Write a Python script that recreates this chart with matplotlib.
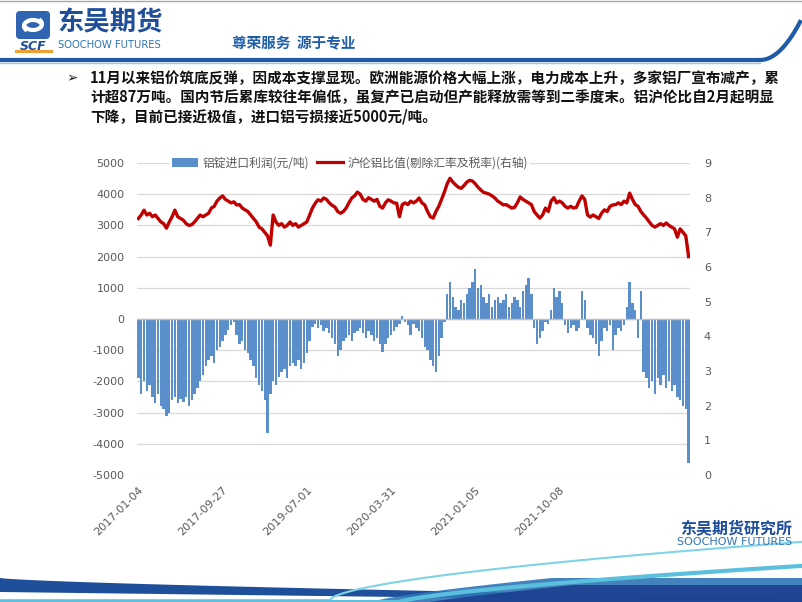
import matplotlib
matplotlib.use('Agg')
import matplotlib.pyplot as plt
from matplotlib.patches import Rectangle, FancyBboxPatch
from matplotlib.lines import Line2D
import numpy as np

plt.rcParams['font.family'] = ['Noto Sans CJK SC', 'DejaVu Sans']
plt.rcParams['axes.unicode_minus'] = False

# data (~5 trading days per point) ############################################
tick_pos = [0, 30, 60, 90, 120, 150]
tick_labels = ['2017-01-04', '2017-09-27', '2019-07-01', '2020-03-31', '2021-01-05', '2021-10-08']

# aluminium ingot import profit, yuan/t (left axis)
profit = [
    -1900, -2400, -2000, -2300, -2100, -2500, -2700, -2400, -2800, -2900,
    -3100, -3000, -2600, -2500, -2700, -2550, -2650, -2500, -2800, -2600,
    -2400, -2200, -2000, -1800, -1500, -1300, -1200, -1400, -1000, -900,
    -700, -500, -350, -200, -100, -500, -800, -700, -1000, -1100,
    -1300, -1500, -1900, -2100, -2300, -2600, -3650, -2400, -2000, -2100,
    -1850, -1700, -1600, -1900, -1500, -1400, -1500, -1300, -1600, -1400,
    -1100, -700, -250, -150, -300, -200, -400, -300, -450, -600,
    -800, -1200, -1000, -700, -600, -500, -700, -450, -400, -300,
    -450, -600, -400, -500, -700, -600, -800, -1050, -800, -600,
    -500, -400, -250, -150, 100, -100, -200, -500, -150, -300,
    -400, -600, -900, -1000, -1300, -1500, -1700, -1200, -600, -100,
    800, 1200, 700, 400, 300, 600, 500, 800, 1000, 1200,
    1600, 1000, 1100, 700, 500, 800, 400, 600, 700, 500,
    600, 800, 400, 500, 700, 600, 400, 900, 1100, 1300,
    800, -300, -800, -600, -400, -100, -150, 300, 1000, 700,
    900, 500, -200, -450, -300, -200, -400, -300, 900, 600,
    -300, -500, -600, -800, -1200, -700, -300, -400, -200, -1000,
    -500, -300, -400, -200, 400, 1200, 500, 300, -600, 900,
    -1700, -1900, -2200, -2000, -2400, -1900, -2100, -1800, -2200, -2000,
    -2300, -2100, -2500, -2600, -2800, -2900, -4600,
]

# SHFE/LME aluminium ratio, ex exchange rate and tax (right axis)
ratio = [
    7.40, 7.50, 7.64, 7.50, 7.55, 7.45, 7.50, 7.40, 7.30, 7.25,
    7.12, 7.30, 7.45, 7.64, 7.45, 7.40, 7.35, 7.25, 7.20, 7.22,
    7.30, 7.40, 7.50, 7.45, 7.50, 7.55, 7.70, 7.75, 7.90, 7.99,
    8.05, 7.95, 7.90, 7.85, 7.88, 7.79, 7.80, 7.70, 7.65, 7.60,
    7.50, 7.40, 7.30, 7.15, 7.10, 7.00, 6.90, 6.63, 7.50, 7.30,
    7.20, 7.25, 7.15, 7.20, 7.30, 7.20, 7.25, 7.15, 7.20, 7.25,
    7.30, 7.50, 7.70, 7.84, 7.94, 7.90, 7.99, 7.95, 7.85, 7.78,
    7.73, 7.60, 7.55, 7.60, 7.70, 7.85, 7.99, 8.05, 8.16, 8.10,
    7.95, 7.90, 8.00, 7.95, 7.90, 7.95, 7.75, 7.70, 7.85, 7.94,
    7.90, 7.85, 7.84, 7.45, 7.80, 7.85, 7.80, 7.90, 7.85, 7.90,
    7.99, 7.85, 7.79, 7.60, 7.45, 7.41, 7.60, 7.75, 7.95, 8.16,
    8.40, 8.56, 8.45, 8.37, 8.30, 8.27, 8.35, 8.45, 8.50, 8.48,
    8.40, 8.30, 8.22, 8.15, 8.13, 8.10, 8.05, 7.99, 7.90, 7.85,
    7.79, 7.80, 7.75, 7.70, 7.72, 7.85, 8.02, 7.95, 7.90, 7.85,
    7.80, 7.60, 7.50, 7.41, 7.50, 7.70, 7.60, 7.90, 8.00, 7.85,
    7.90, 7.85, 7.75, 7.70, 7.75, 7.70, 7.72, 7.90, 8.05, 7.95,
    7.50, 7.44, 7.50, 7.45, 7.40, 7.55, 7.65, 7.60, 7.75, 7.79,
    7.80, 7.85, 7.80, 7.90, 7.85, 8.13, 7.95, 7.80, 7.75, 7.60,
    7.50, 7.41, 7.30, 7.20, 7.15, 7.20, 7.25, 7.20, 7.27, 7.20,
    7.15, 7.10, 6.86, 7.10, 7.00, 6.90, 6.30,
]

bullet_lines = [
    '11月以来铝价筑底反弹，因成本支撑显现。欧洲能源价格大幅上涨，电力成本上升，多家铝厂宣布减产，累',
    '计超87万吨。国内节后累库较往年偏低，虽复产已启动但产能释放需等到二季度末。铝沪伦比自2月起明显',
    '下降，目前已接近极值，进口铝亏损接近5000元/吨。',
]

W, H = 802, 602
fig = plt.figure(figsize=(W / 100, H / 100), dpi=100)

# slide decoration in pixel coords ############################################
bg = fig.add_axes([0, 0, 1, 1], zorder=0)
bg.set_xlim(0, W)
bg.set_ylim(H, 0)
bg.axis('off')

bg.plot([0, W], [1, 1], color='#A6A6A6', lw=1)
# logo
bg.add_patch(FancyBboxPatch((16, 11), 34, 28, boxstyle='round,pad=0,rounding_size=4',
                            fc='#2F64B0', ec='none'))
t = np.linspace(0, np.pi, 30)
bg.plot(33 + 9 * np.cos(t + 0.6), 20 + 6 * np.sin(t + 0.6) * -1 + 6, color='white', lw=3)
bg.plot(33 - 9 * np.cos(t + 0.6), 30 + 6 * np.sin(t + 0.6) - 6, color='white', lw=3)
bg.text(33, 46, 'SCF', ha='center', va='center', fontsize=9, fontweight='bold',
        fontstyle='italic', color='#1F4E9A', family='DejaVu Sans')
bg.add_patch(Rectangle((15, 50), 38, 2.5, fc='#F0A030', ec='none'))
bg.text(57, 23, '东吴期货', ha='left', va='center', fontsize=19, fontweight='bold', color='#1F4E9A')
bg.text(58, 45, 'SOOCHOW FUTURES', ha='left', va='center', fontsize=7.2, color='#2E75B6',
        family='DejaVu Sans')
bg.text(232, 43, '尊荣服务  源于专业', ha='left', va='center', fontsize=10.5,
        fontweight='bold', fontstyle='italic', color='#1F5FAA')
# header line with curl at the right
xs = np.linspace(760, 800, 30)
bg.plot([0, 760], [60, 60], color='#1F5BA8', lw=3, solid_capstyle='butt')
bg.plot(xs, 60 - 38 * ((xs - 760) / 40) ** 2, color='#1F5BA8', lw=3)
bg.plot([0, 760], [63, 63], color='#9DC3E6', lw=1)

# bullet text
bg.text(66, 78, '➢', ha='left', va='center', fontsize=10, family='DejaVu Sans', color='#222222')
for k, line in enumerate(bullet_lines):
    bg.text(90, 78 + 19 * k, line, ha='left', va='center', fontsize=10.5,
            fontweight='bold', color='#111111')

# bottom waves
x = np.linspace(0, W, 300)
bg.fill_between(x, 578 + 20 * (x / W) ** 0.7, 592 + 10 * (x / W), color='#1F4E9A', lw=0)
bg.fill_between(x, np.maximum(600 - 45 * ((x - 380) / 420).clip(0) ** 0.8, 578), 602,
                color='#2E75B6', lw=0, alpha=0.9)
bg.fill_between(x, np.maximum(602 - 40 * ((x - 430) / 370).clip(0) ** 0.9, 585), 602,
                color='#1B3F8F', lw=0, alpha=0.9)
bg.plot(x, 600 - 58 * ((x - 330) / 470).clip(0) ** 0.6, color='#7FD3E6', lw=1.5)
bg.plot(x, 602 - 36 * ((x - 400) / 400).clip(0) ** 0.7, color='#5BC0DE', lw=3)
bg.text(736, 528, '东吴期货研究所', ha='center', va='center', fontsize=11.5,
        fontweight='bold', color='#1F4E9A')
bg.text(735, 542, 'SOOCHOW FUTURES', ha='center', va='center', fontsize=8,
        color='#2E75B6', family='DejaVu Sans')

# chart #######################################################################
ax = fig.add_axes([137 / W, 1 - 475 / H, (690 - 137) / W, (475 - 163) / H], zorder=2)
ax.patch.set_alpha(0)
idx = np.arange(len(profit))
ax.bar(idx, profit, width=0.85, color='#5B8FCB', linewidth=0, zorder=3)
ax.set_ylim(-5000, 5000)
ax.set_yticks(range(-5000, 5001, 1000))
ax.set_xlim(-0.5, len(profit) - 0.5)
ax.grid(axis='y', color='#D9D9D9', lw=0.9, zorder=0)
ax.axhline(0, color='#BFBFBF', lw=1, zorder=4)
for s in ax.spines.values():
    s.set_visible(False)
ax.set_xticks(tick_pos)
ax.set_xticklabels(tick_labels, rotation=45, ha='right', rotation_mode='anchor',
                   family='DejaVu Sans')
ax.tick_params(axis='both', length=0, labelsize=8, labelcolor='#595959')
ax.tick_params(axis='y', pad=9)
ax.tick_params(axis='x', pad=7)
for lab in ax.get_yticklabels():
    lab.set_family('DejaVu Sans')

ax2 = ax.twinx()
ax2.plot(np.arange(len(ratio)), ratio, color='#C00000', lw=2.4, zorder=5)
ax2.set_ylim(0, 9)
ax2.set_yticks(range(0, 10))
for s in ax2.spines.values():
    s.set_visible(False)
ax2.tick_params(axis='y', length=0, labelsize=8, labelcolor='#595959', pad=10)
for lab in ax2.get_yticklabels():
    lab.set_family('DejaVu Sans')

handles = [Rectangle((0, 0), 1, 1, fc='#5B8FCB', ec='none'),
           Line2D([], [], color='#C00000', lw=2.3)]
leg = fig.legend(handles, ['铝锭进口利润(元/吨)', '沪伦铝比值(剔除汇率及税率)(右轴)'],
                 loc='center', bbox_to_anchor=(350 / W, 1 - 163 / H), ncol=2,
                 frameon=True, fontsize=8.5, handlelength=2.2, handleheight=0.8,
                 columnspacing=0.6, handletextpad=0.4, borderpad=0.2)
leg.get_frame().set_edgecolor('none')
leg.get_frame().set_facecolor('white')
leg.get_frame().set_alpha(1)
leg.set_zorder(10)
for txt in leg.get_texts():
    txt.set_color('#595959')

fig.savefig('out.png', dpi=100)
